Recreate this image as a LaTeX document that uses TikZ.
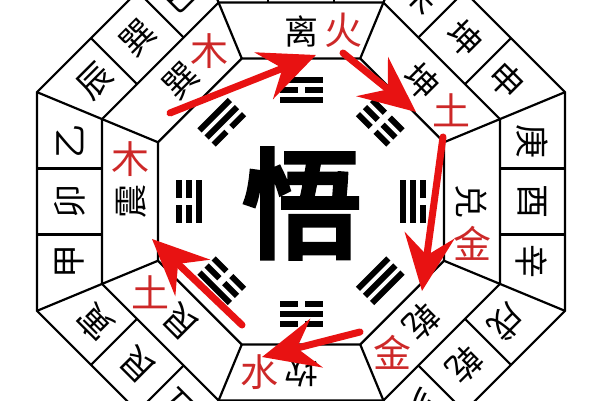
\documentclass[tikz,border=0pt]{standalone}
\usepackage{fontspec}
\newfontfamily\cjk{Noto Sans CJK SC}
\newfontfamily\cjkheavy[FakeBold=5]{Noto Sans CJK SC}
\usetikzlibrary{arrows.meta}
\definecolor{elemred}{RGB}{205,40,40}
\definecolor{arrowred}{RGB}{232,18,18}
\tikzset{
  edge/.style={line width=2.2pt, line join=miter},
  mtn/.style={font=\cjk\fontsize{34}{34}\selectfont, inner sep=0pt},
  gua/.style={font=\cjk\fontsize{34}{34}\selectfont, inner sep=0pt},
  elem/.style={font=\cjk\fontsize{38}{38}\selectfont, text=elemred, inner sep=0pt},
  flow/.style={line width=7pt, draw=arrowred, line cap=round,
    -{Stealth[length=56pt,width=50pt,inset=20pt,fill=arrowred]}},
}
\newcommand\yaoline[2]{%
  \ifnum#2=1
    \fill (#1-3,-21.5) rectangle (#1+3,21.5);
  \else
    \fill (#1-3,-21.5) rectangle (#1+3,-3.5);
    \fill (#1-3,3.5) rectangle (#1+3,21.5);
  \fi}
\begin{document}
\begin{tikzpicture}[x=1pt,y=1pt]
\useasboundingbox (0,0) rectangle (600,400);
\clip (0,0) rectangle (600,400);
\fill[white] (0,0) rectangle (600,400);
\begin{scope}[shift={(301,198.5)}]
  \coordinate (O) at (0,0);
  % octagons
  \draw[edge] (22.5:285.75) \foreach \k in {1,...,7}{ -- ({22.5+45*\k}:285.75)} -- cycle;
  \draw[edge] (22.5:215.4) \foreach \k in {1,...,7}{ -- ({22.5+45*\k}:215.4)} -- cycle;
  \draw[edge] (22.5:154.8) \foreach \k in {1,...,7}{ -- ({22.5+45*\k}:154.8)} -- cycle;
  % radial lines
  \foreach \k in {0,...,7}{
    \draw[edge] ({22.5+45*\k}:154.8) -- ({22.5+45*\k}:285.75);
  }
  % sectors
  \foreach \t/\a/\b/\c/\n/\e/\ya/\yb/\yc [count=\i] in {
      90/丙/午/丁/离/火/1/0/1,
      45/未/坤/申/坤/土/0/0/0,
      0/庚/酉/辛/兑/金/1/1/0,
      -45/戌/乾/亥/乾/金/1/1/1,
      -90/壬/子/癸/坎/水/0/1/0,
      -135/丑/艮/寅/艮/土/0/0/1,
      180/甲/卯/乙/震/木/1/0/0,
      135/辰/巽/巳/巽/木/0/1/1}{
    \begin{scope}[rotate=\t]
      \draw[edge] (199,33) -- (264,33);
      \draw[edge] (199,-33) -- (264,-33);
      \node[mtn, rotate=\t-90] (m\i a) at (231,60) {\a};
      \node[mtn, rotate=\t-90] (m\i b) at (231,0) {\b};
      \node[mtn, rotate=\t-90] (m\i c) at (231,-60) {\c};
      \node[gua, rotate=\t-90] (g\i) at (170,0) {\n};
      \node[elem] (e\i) at (171,-42) {\e};
      \yaoline{102}{\ya}
      \yaoline{112}{\yb}
      \yaoline{122}{\yc}
    \end{scope}
  }
  \node[inner sep=0pt, font=\cjkheavy\fontsize{118}{118}\selectfont] (wu) at (1,-2) {悟};
\end{scope}
% arrows
\coordinate (a1s) at (170,287); \coordinate (a1e) at (316,345);
\coordinate (a2s) at (343,347); \coordinate (a2e) at (416,288);
\coordinate (a3s) at (443,263); \coordinate (a3e) at (422,109);
\coordinate (a4s) at (360,68);  \coordinate (a4e) at (262,43);
\coordinate (a5s) at (242,75);  \coordinate (a5e) at (152,161);
\draw[flow] (a1s) -- (a1e);
\draw[flow] (a2s) -- (a2e);
\draw[flow] (a3s) -- (a3e);
\draw[flow] (a4s) -- (a4e);
\draw[flow] (a5s) -- (a5e);
\end{tikzpicture}
\end{document}
